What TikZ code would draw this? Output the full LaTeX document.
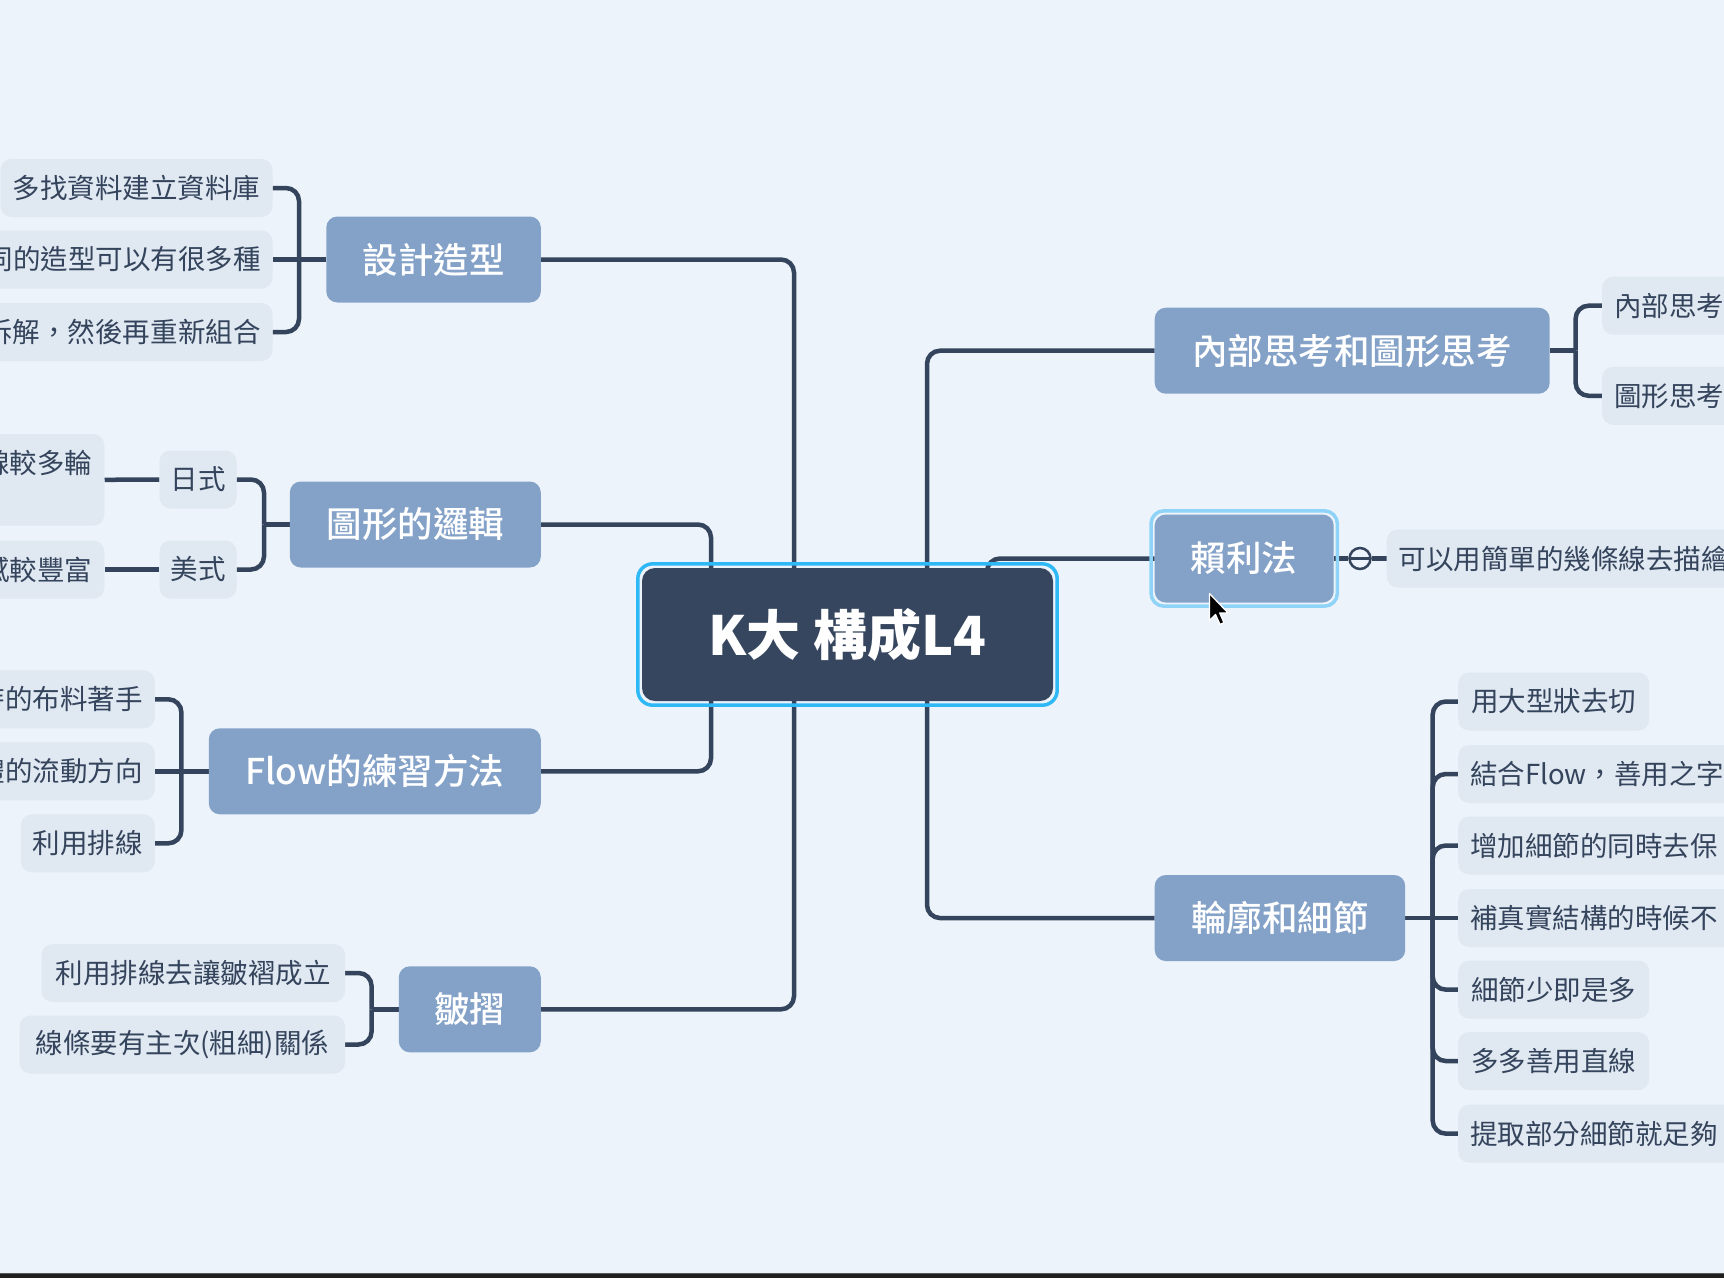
\documentclass[tikz,border=0pt]{standalone}
\usepackage{fontspec}
\newfontfamily\cjk{Noto Sans CJK TC}
\newfontfamily\cjkmed{Noto Sans CJK TC Medium}
\usetikzlibrary{calc}
\definecolor{bgc}{HTML}{ECF3FA}
\definecolor{branchc}{HTML}{84A2C8}
\definecolor{leafc}{HTML}{E0E8F1}
\definecolor{textc}{HTML}{34445C}
\definecolor{linec}{HTML}{34445C}
\definecolor{centerc}{HTML}{36465E}
\definecolor{selc}{HTML}{2FB8F6}
\definecolor{selb}{HTML}{8FD4F8}
\pgfdeclarelayer{back}\pgfdeclarelayer{lines}
\pgfsetlayers{back,lines,main}
\tikzset{
 conn/.style={draw=linec, line width=4.5, rounded corners=13},
 branch/.style={fill=branchc, rounded corners=11, text=white, font=\cjkmed\fontsize{35.5}{40}\selectfont, minimum height=86, inner sep=0},
 leaf/.style={fill=leafc, rounded corners=11, text=textc, font=\cjk\fontsize{27.5}{36}\selectfont, minimum height=58, inner xsep=12, inner ysep=0},
 leafL/.style={leaf, anchor=east, align=right},
 leafR/.style={leaf, anchor=west, align=left},
}
\begin{document}
\begin{tikzpicture}[x=1pt,y=-1pt]
\useasboundingbox (0,0) rectangle (1724,1278);
\begin{pgfonlayer}{back}
\fill[bgc] (0,0) rectangle (1724,1278);
\end{pgfonlayer}

% center
\node[fill=centerc, rounded corners=13, minimum width=411, minimum height=133, inner sep=0, text=white, font=\cjk\bfseries\fontsize{54}{60}\selectfont] (C) at (847.5,634.5) {K大 構成L4};
\draw[selc, line width=3.5, rounded corners=15] ($(C.north west)+(-4,-4)$) rectangle ($(C.south east)+(4,4)$);

% branches
\node[branch, minimum width=214.5, anchor=east] (B1) at (541,259.5) {設計造型};
\node[branch, minimum width=251, anchor=east] (B2) at (541,524.5) {圖形的邏輯};
\node[branch, minimum width=332, anchor=east] (B3) at (541,771.3) {Flow的練習方法};
\node[branch, minimum width=142, anchor=east] (B4) at (541,1009.3) {皺摺};
\node[branch, minimum width=395, anchor=west] (B5) at (1154.5,350.7) {內部思考和圖形思考};
\node[branch, minimum width=179, minimum height=88, anchor=west] (B6) at (1154.5,558.5) {賴利法};
\draw[selb, line width=3.5, rounded corners=13] ($(B6.north west)+(-3.5,-3.5)$) rectangle ($(B6.south east)+(3.5,3.5)$);
\node[branch, minimum width=250.5, anchor=west] (B7) at (1154.5,918) {輪廓和細節};

% group 1
\node[leafL, text width=248] (a1) at (272.7,188) {多找資料建立資料庫};
\node[leafL, text width=320] (a2) at (272.7,259.5) {不同的造型可以有很多種};
\node[leafL, text width=320] (a3) at (272.7,332) {拆解，然後再重新組合};
% group 2
\node[leaf, minimum width=77, inner xsep=0] (j1) at (198,479.5) {日式};
\node[leaf, minimum width=77, inner xsep=0] (j2) at (198,569.5) {美式};
\node[leafL, text width=200, minimum height=91.5] (g1) at (104.5,479.8) {線較多輪\\\mbox{}};
\node[leafL, text width=200] (g2) at (104.5,569.5) {感較豐富};
% group 3
\node[leafL, text width=200] (f1) at (155,699.3) {時的布料著手};
\node[leafL, text width=200] (f2) at (155,771.3) {體的流動方向};
\node[leafL, minimum width=134] (f3) at (155,843.3) {利用排線};
% group 4
\node[leafL, minimum width=303.4] (w1) at (345.2,973) {利用排線去讓皺褶成立};
\node[leafL, minimum width=325.4] (w2) at (345.2,1044.5) {線條要有主次(粗細)關係};
% group 5
\node[leafR, text width=300] (r1) at (1602,305.7) {內部思考};
\node[leafR, text width=300] (r2) at (1602,395.8) {圖形思考};
% group 6
\node[circle, draw=linec, line width=2.5, fill=bgc, minimum size=21, inner sep=0] (k) at (1360,558.5) {};
\draw[linec, line width=2.5] ($(k.west)+(3,0)$) -- ($(k.east)+(-3,0)$);
\node[leafR, text width=400] (s1) at (1386.5,558.5) {可以用簡單的幾條線去描繪};
% group 7
\node[leafR, minimum width=191] (t1) at (1458,701.5) {用大型狀去切};
\node[leafR, text width=300] (t2) at (1458,774) {結合Flow，善用之字};
\node[leafR, text width=300] (t3) at (1458,845.5) {增加細節的同時去保};
\node[leafR, text width=300] (t4) at (1458,918) {補真實結構的時候不};
\node[leafR, minimum width=191] (t5) at (1458,989.6) {細節少即是多};
\node[leafR, minimum width=191] (t6) at (1458,1061) {多多善用直線};
\node[leafR, text width=300] (t7) at (1458,1133.6) {提取部分細節就足夠};

% cursor
\filldraw[fill=black, draw=white, line width=1.3, line join=round] (1209.5,593.5) -- ++(0,27) -- ++(6,-6) -- ++(4.5,10) -- ++(4,-1.8) -- ++(-4.3,-9.8) -- ++(8.3,0) -- cycle;

% bottom bar
\fill[black!88] (0,1273) rectangle (1724,1278);
\draw[black!65, line width=1] (0,1273.5) -- (1724,1273.5);

\begin{pgfonlayer}{lines}
\coordinate (tA) at (711,634.5);
\coordinate (tB) at (794,634.5);
\coordinate (tC) at (927,634.5);
\coordinate (tD) at (987,634.5);
\draw[conn] (tB) |- (B1.east);
\draw[conn] (tA) |- (B2.east);
\draw[conn] (tA) |- (B3.east);
\draw[conn] (tB) |- (B4.east);
\draw[conn] (tC) |- (B5.west);
\draw[conn] (tD) |- (B6.west);
\draw[conn] (tC) |- (B7.west);
% group 1
\coordinate (bx1) at (299,259.5);
\draw[conn] (B1.west) -- (a2.east);
\draw[conn] (bx1) |- (a1.east);
\draw[conn] (bx1) |- (a3.east);
% group 2
\coordinate (bx2) at (264,524.5);
\draw[conn] (B2.west) -- (bx2);
\draw[conn] (bx2) |- (j1.east);
\draw[conn] (bx2) |- (j2.east);
\draw[conn] (j1.west) -- (g1.east);
\draw[conn] (j2.west) -- (g2.east);
% group 3
\coordinate (bx3) at (181.4,771.3);
\draw[conn] (B3.west) -- (f2.east);
\draw[conn] (bx3) |- (f1.east);
\draw[conn] (bx3) |- (f3.east);
% group 4
\coordinate (bx4) at (371.6,1009.3);
\draw[conn] (B4.west) -- (bx4);
\draw[conn] (bx4) |- (w1.east);
\draw[conn] (bx4) |- (w2.east);
% group 5
\coordinate (bx5) at (1575.6,350.7);
\draw[conn] (B5.east) -- (bx5);
\draw[conn] (bx5) |- (r1.west);
\draw[conn] (bx5) |- (r2.west);
% group 6
\draw[conn] (B6.east) -- (k.west);
\draw[conn] (k.east) -- (s1.west);
% group 7
\coordinate (bx7) at (1432.7,918);
\draw[conn] (B7.east) -- (t4.west);
\foreach \t in {t1,t2,t3,t5,t6,t7} { \draw[conn] (bx7) |- (\t.west); }
\end{pgfonlayer}
\end{tikzpicture}
\end{document}
